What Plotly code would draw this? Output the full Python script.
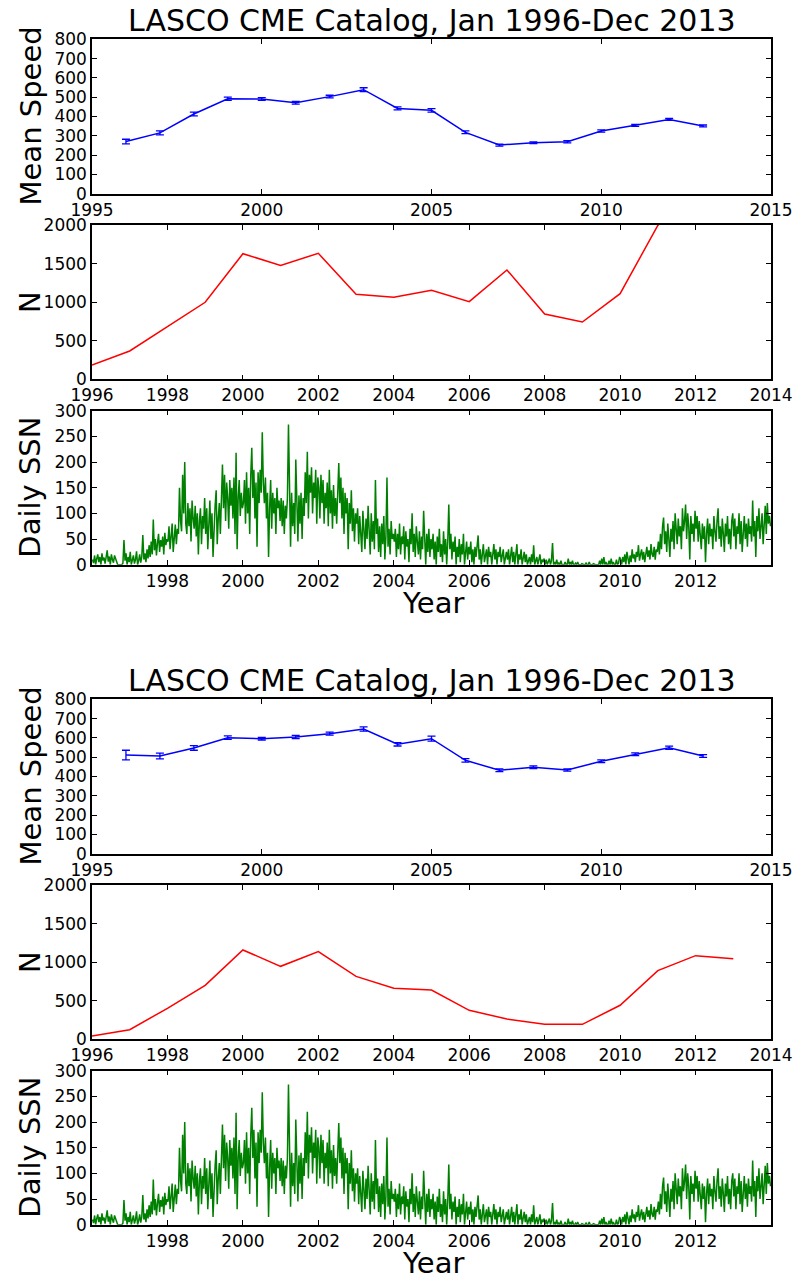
import numpy as np
import plotly.graph_objects as go

# ---------------- data ----------------
years = list(range(1996, 2014))

# All CMEs
speed_all = [270, 315, 413, 492, 491, 471, 503, 539, 442, 432, 318, 252, 264, 269, 325, 354, 385, 351]
speed_all_err = [12, 10, 10, 8, 7, 7, 7, 10, 8, 9, 7, 5, 5, 6, 6, 5, 5, 5]
count_all = [186, 367, 683, 998, 1628, 1477, 1633, 1101, 1063, 1153, 1006, 1417, 847, 743, 1110, 1995, 2450, 2250]

# CMEs with width >= 30 deg
speed_wide = [511, 506, 548, 601, 596, 605, 622, 646, 567, 596, 484, 432, 448, 434, 479, 515, 549, 506]
speed_wide_err = [25, 15, 12, 9, 7, 8, 8, 11, 9, 13, 9, 7, 7, 6, 7, 7, 8, 7]
count_wide = [43, 125, 402, 700, 1158, 946, 1136, 816, 661, 639, 376, 263, 194, 194, 441, 890, 1084, 1045]

# Daily sunspot number, about every 10 days, Jan 1996 - Dec 2013
ssn = [
    # 1996
    10, 3, 18, 0, 12, 20, 5, 15, 0, 22, 8, 14, 2, 18, 28, 6, 16, 0,
    20, 10, 4, 18, 12, 2, 0, 0, 0, 0, 0, 3, 48, 8, 22, 0, 15, 5,
    # 1997
    25, 0, 12, 18, 2, 10, 26, 0, 8, 20, 4, 15, 58, 10, 22, 5, 30, 12,
    38, 15, 45, 20, 88, 28, 50, 18, 42, 60, 25, 48, 35, 55, 20, 62, 38, 50,
    # 1998
    45, 75, 30, 60, 80, 25, 55, 78, 40, 70, 60, 150, 85, 65, 175, 100, 200, 80,
    60, 120, 75, 110, 45, 125, 90, 70, 115, 55, 100, 20, 85, 110, 40, 95, 70, 130,
    # 1999
    60, 110, 30, 90, 125, 50, 100, 15, 75, 115, 145, 40, 90, 120, 60, 150, 195, 110,
    175, 85, 160, 130, 70, 165, 115, 150, 90, 170, 60, 218, 30, 130, 165, 95, 140, 110,
    # 2000
    120, 165, 80, 180, 100, 150, 60, 175, 228, 130, 185, 90, 160, 35, 180, 120, 185, 140,
    258, 160, 120, 170, 90, 140, 15, 110, 165, 70, 140, 100, 130, 60, 150, 110, 125, 85,
    # 2001
    130, 75, 125, 60, 115, 90, 130, 273, 100, 35, 140, 75, 120, 60, 205, 110, 45, 135,
    80, 140, 50, 130, 95, 180, 120, 220, 90, 175, 140, 190, 100, 160, 130, 185, 80, 170,
    # 2002
    150, 90, 175, 120, 165, 80, 140, 110, 160, 75, 185, 100, 145, 70, 155, 95, 130, 80,
    160, 198, 120, 170, 90, 150, 60, 140, 100, 130, 30, 120, 80, 145, 65, 110, 45, 100,
    # 2003
    80, 110, 40, 95, 60, 25, 105, 70, 30, 90, 50, 115, 75, 20, 100, 45, 85, 30,
    165, 60, 90, 25, 75, 15, 80, 40, 95, 10, 55, 170, 35, 70, 20, 85, 50, 60,
    # 2004
    45, 70, 15, 60, 30, 80, 20, 55, 40, 75, 10, 65, 35, 50, 5, 70, 40, 100,
    25, 60, 15, 75, 45, 20, 65, 10, 55, 30, 105, 40, 0, 60, 25, 70, 15, 50,
    # 2005
    30, 60, 10, 45, 0, 55, 25, 70, 15, 40, 5, 65, 20, 50, 0, 45, 117, 30,
    60, 10, 45, 25, 55, 0, 35, 15, 50, 5, 40, 20, 60, 0, 30, 45, 10, 35,
    # 2006
    20, 45, 5, 30, 0, 35, 15, 40, 57, 10, 30, 0, 25, 40, 5, 20, 30, 0,
    35, 15, 25, 0, 20, 40, 10, 30, 0, 25, 15, 35, 5, 20, 30, 0, 15, 25,
    # 2007
    10, 30, 0, 20, 35, 5, 25, 0, 15, 40, 0, 20, 10, 30, 0, 15, 25, 5,
    20, 0, 10, 15, 0, 20, 5, 38, 0, 10, 15, 0, 8, 20, 0, 10, 5, 12,
    # 2008
    0, 10, 0, 5, 12, 0, 8, 42, 0, 5, 0, 10, 0, 3, 0, 8, 0, 0,
    0, 5, 0, 0, 12, 0, 5, 0, 8, 0, 0, 3, 0, 5, 0, 0, 0, 2,
    # 2009
    0, 0, 0, 3, 0, 0, 5, 0, 0, 0, 2, 0, 0, 0, 0, 0, 8, 0,
    12, 0, 15, 0, 5, 0, 0, 8, 0, 12, 0, 5, 0, 0, 10, 0, 3, 15,
    # 2010
    10, 0, 15, 5, 20, 0, 25, 10, 0, 18, 5, 30, 12, 20, 5, 25, 15, 38,
    8, 20, 30, 10, 25, 5, 20, 35, 15, 28, 10, 40, 20, 15, 35, 10, 30, 25,
    # 2011
    45, 20, 60, 30, 75, 92, 40, 65, 25, 80, 50, 15, 70, 45, 85, 30, 100, 60,
    40, 90, 55, 75, 30, 110, 65, 85, 117, 50, 100, 75, 10, 95, 60, 80, 45, 105,
    # 2012
    70, 95, 45, 85, 60, 30, 80, 50, 75, 5, 60, 90, 40, 80, 55, 70, 30, 95,
    65, 45, 85, 110, 50, 75, 35, 90, 60, 25, 80, 55, 95, 40, 70, 30, 85, 100,
    # 2013
    55, 90, 30, 75, 60, 100, 40, 85, 25, 70, 95, 50, 80, 35, 90, 60, 75, 45,
    125, 55, 85, 15, 95, 65, 110, 50, 80, 100, 40, 70, 115, 60, 120, 80, 95, 75,
]
ssn_time = 1996 + (np.arange(len(ssn)) + 0.5) / 36.0

title_text = "LASCO CME Catalog, Jan 1996-Dec 2013"
speed_ticks = [0, 100, 200, 300, 400, 500, 600, 700, 800]
speed_xticks = [1995, 2000, 2005, 2010, 2015]
count_ticks = [0, 500, 1000, 1500, 2000]
count_xticks = [1996, 1998, 2000, 2002, 2004, 2006, 2008, 2010, 2012, 2014]
ssn_ticks = [0, 50, 100, 150, 200, 250, 300]
ssn_xticks = [1998, 2000, 2002, 2004, 2006, 2008, 2010, 2012]

# ---------------- layout helpers ----------------
W, H = 798, 1280
FONT = "DejaVu Sans"
X0, X1 = 92, 771


def px_x(p):
    return p / W


def px_y(p):
    return 1 - p / H


def ydom(top, bottom):
    return [px_y(bottom), px_y(top)]


def axis_style(ticks, rng, dom=None, anchor=None):
    d = dict(
        range=rng,
        tickvals=ticks,
        ticktext=[str(t) for t in ticks],
        showline=True,
        linecolor="black",
        linewidth=1.5,
        mirror="ticks",
        ticks="inside",
        ticklen=5,
        tickwidth=1,
        tickcolor="black",
        showgrid=False,
        zeroline=False,
        automargin=False,
        tickfont=dict(family=FONT, size=17, color="black"),
        fixedrange=True,
    )
    if dom is not None:
        d["domain"] = dom
    if anchor is not None:
        d["anchor"] = anchor
    return d


fig = go.Figure()
layout = dict(
    width=W,
    height=H,
    margin=dict(l=0, r=0, t=0, b=0),
    paper_bgcolor="white",
    plot_bgcolor="white",
    showlegend=False,
    font=dict(family=FONT, color="black"),
)
annotations = []

panels = [
    (speed_all, speed_all_err, count_all, 0),
    (speed_wide, speed_wide_err, count_wide, 660),
]

for k, (spd, err, cnt, off) in enumerate(panels):
    n = 3 * k
    xa = ["x%d" % (n + i + 1) for i in range(3)]
    ya = ["y%d" % (n + i + 1) for i in range(3)]
    xa = ["x" if a == "x1" else a for a in xa]
    ya = ["y" if a == "y1" else a for a in ya]

    def key(a, kind):
        return kind + "axis" + a[1:]

    # mean speed with error bars
    fig.add_trace(go.Scatter(
        x=years, y=spd, xaxis=xa[0], yaxis=ya[0], mode="lines",
        line=dict(color="#0000ff", width=1.5),
        error_y=dict(type="data", array=err, visible=True, color="#0000ff",
                     thickness=1.3, width=4),
    ))
    # number of CMEs
    fig.add_trace(go.Scatter(
        x=years, y=cnt, xaxis=xa[1], yaxis=ya[1], mode="lines",
        line=dict(color="#ff0000", width=1.5),
    ))
    # daily sunspot number
    fig.add_trace(go.Scatter(
        x=ssn_time, y=ssn, xaxis=xa[2], yaxis=ya[2], mode="lines",
        line=dict(color="#008000", width=1.5),
    ))

    tops = [(39.3, 193.7), (225, 379.3), (410.7, 564.7)]
    tops = [(a + off, b + off) for a, b in tops]
    xdom = [px_x(X0), px_x(X1)]

    layout[key(xa[0], "x")] = axis_style(speed_xticks, [1995, 2015], xdom, ya[0])
    layout[key(ya[0], "y")] = axis_style(speed_ticks, [0, 800], ydom(*tops[0]), xa[0])
    layout[key(xa[1], "x")] = axis_style(count_xticks, [1996, 2014], xdom, ya[1])
    layout[key(ya[1], "y")] = axis_style(count_ticks, [0, 2000], ydom(*tops[1]), xa[1])
    layout[key(xa[2], "x")] = axis_style(ssn_xticks, [1996, 2014], xdom, ya[2])
    layout[key(ya[2], "y")] = axis_style(ssn_ticks, [0, 300], ydom(*tops[2]), xa[2])

    # title and axis labels
    annotations.append(dict(text=title_text, x=px_x((X0 + X1) / 2), y=px_y(20 + off),
                            xref="paper", yref="paper", showarrow=False,
                            xanchor="center", yanchor="middle",
                            font=dict(family=FONT, size=30, color="black")))
    for label, cy in [("Mean Speed", 116.5), ("N", 302), ("Daily SSN", 487.7)]:
        annotations.append(dict(text=label, x=px_x(30), y=px_y(cy + off),
                                xref="paper", yref="paper", showarrow=False,
                                textangle=-90, xanchor="center", yanchor="middle",
                                font=dict(family=FONT, size=29, color="black")))
    annotations.append(dict(text="Year", x=px_x(433), y=px_y(603 + off),
                            xref="paper", yref="paper", showarrow=False,
                            xanchor="center", yanchor="middle",
                            font=dict(family=FONT, size=29, color="black")))

layout["annotations"] = annotations
fig.update_layout(**layout)
fig.write_html("out.html")
